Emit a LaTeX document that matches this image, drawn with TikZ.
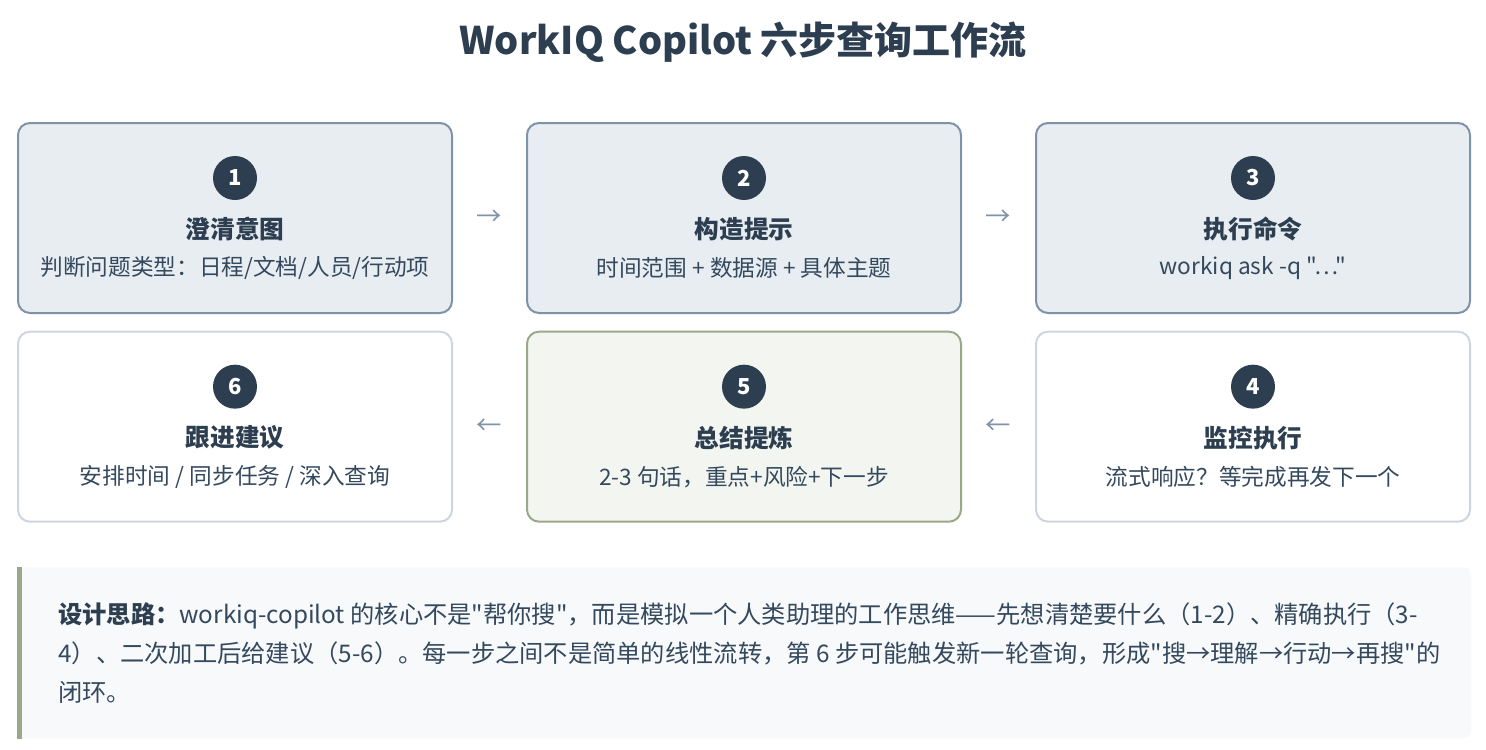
\documentclass[tikz,border=0pt]{standalone}
\usepackage{fontspec}
\setmainfont{Noto Sans CJK SC}[Ligatures=TeXOff]
\usetikzlibrary{positioning}
\definecolor{ink}{HTML}{2C3E50}
\definecolor{subink}{HTML}{34495E}
\definecolor{blueline}{HTML}{7F93A8}
\definecolor{bluefill}{HTML}{E8EDF2}
\definecolor{greyline}{HTML}{CDD6DF}
\definecolor{greenline}{HTML}{9AA88A}
\definecolor{greenfill}{HTML}{F3F6F0}
\definecolor{notefill}{HTML}{F7F9FA}
\tikzset{
  stepbox/.style={rectangle,rounded corners=9pt,line width=1.5pt,minimum width=325.5pt,minimum height=142.5pt,inner sep=0pt},
  activebox/.style={stepbox,draw=blueline,fill=bluefill},
  plainbox/.style={stepbox,draw=greyline,fill=white},
  sumbox/.style={stepbox,draw=greenline,fill=greenfill},
  badge/.style={circle,fill=ink,text=white,minimum size=33pt,inner sep=0pt,font=\fontsize{16.5}{16.5}\selectfont\bfseries},
  heading/.style={text=ink,font=\fontsize{18.5}{18.5}\selectfont\bfseries},
  detail/.style={text=subink,font=\fontsize{17}{17}\selectfont},
  flowarrow/.style={text=blueline,font=\fontsize{19}{19}\selectfont}
}
\begin{document}
\begin{tikzpicture}[x=0.75pt,y=-0.75pt,node distance=54.75pt]
\useasboundingbox (0,0) rectangle (1486,750);
\node[text=ink,font=\fontsize{28.5}{28.5}\selectfont\bfseries] (title) at (743,42) {WorkIQ Copilot 六步查询工作流};
% top row
\node[activebox] (s1) at (235,218) {};
\node[activebox] (s2) [right=of s1] {};
\node[activebox] (s3) [right=of s2] {};
% bottom row
\node[plainbox] (s4) [below=12.5pt of s3] {};
\node[sumbox] (s5) [below=12.5pt of s2] {};
\node[plainbox] (s6) [below=12.5pt of s1] {};
% badges, headings, details
\foreach \s/\n/\h/\d in {s1/1/澄清意图/{判断问题类型：日程/文档/人员/行动项},
                         s2/2/构造提示/{时间范围 + 数据源 + 具体主题},
                         s3/3/执行命令/{workiq ask -q "…"},
                         s4/4/监控执行/{流式响应？等完成再发下一个},
                         s5/5/总结提炼/{2-3 句话，重点+风险+下一步},
                         s6/6/跟进建议/{安排时间 / 同步任务 / 深入查询}}{
  \node[badge] (\s-num) at ([yshift=30pt]\s.center) {\n};
  \node[heading] (\s-head) at ([yshift=-8.25pt]\s.center) {\h};
  \node[detail] (\s-text) at ([yshift=-37.5pt]\s.center) {\d};
}
% flow arrows
\path (s1) -- node[flowarrow] {→} (s2);
\path (s2) -- node[flowarrow] {→} (s3);
\path (s4) -- node[flowarrow] {←} (s5);
\path (s5) -- node[flowarrow] {←} (s6);
% design note
\node[rectangle,rounded corners=6pt,fill=notefill,minimum width=1090.5pt,minimum height=128.25pt,anchor=north west] (note) at (17,567) {};
\fill[greenline] (note.north west) rectangle ([xshift=3.75pt]note.south west);
\node[text=subink,align=left,anchor=west,inner sep=0pt,font=\fontsize{18.2}{29.25}\selectfont] (note-text) at (58,653) {{\bfseries\color{ink}设计思路：}workiq-copilot 的核心不是"帮你搜"，而是模拟一个人类助理的工作思维——先想清楚要什么（1-2）、精确执行（3-\\4）、二次加工后给建议（5-6）。每一步之间不是简单的线性流转，第 6 步可能触发新一轮查询，形成"搜→理解→行动→再搜"的\\闭环。};
\end{tikzpicture}
\end{document}
